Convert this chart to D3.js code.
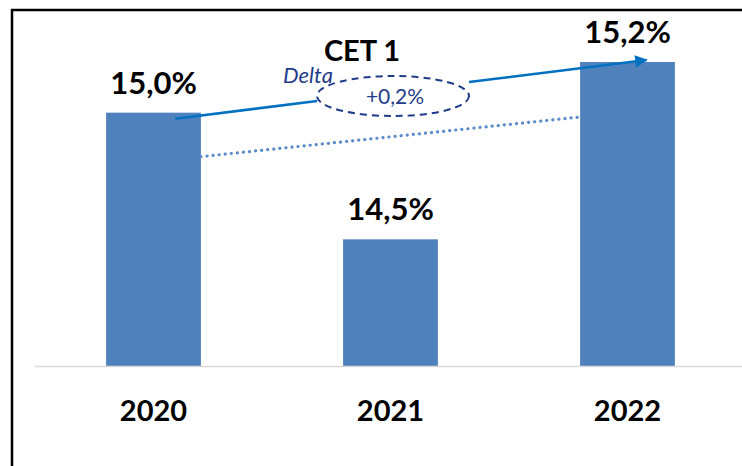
<!DOCTYPE html>
<html>
<head>
<meta charset="utf-8">
<script src="https://cdn.jsdelivr.net/npm/d3@7"></script>
<style>
  body { margin: 0; background: #fff; }
  svg { display: block; }
</style>
</head>
<body>
<div id="chart"></div>
<script>
const years = ['2020', '2021', '2022'];
const cet1 = [15.0, 14.5, 15.2];
const valueLabels = ['15,0%', '14,5%', '15,2%'];
const title = 'CET 1';
const deltaLabel = '+0,2%';

const width = 742;
const height = 466;
const font = 'Lato, "Open Sans", sans-serif';

const svg = d3.select('#chart').append('svg')
    .attr('width', width)
    .attr('height', height);

// frame (only top and left edges show in the crop)
svg.append('path')
    .attr('d', 'M12,470 L12,10 L750,10')
    .attr('fill', 'none')
    .attr('stroke', '#000')
    .attr('stroke-width', 2.5);

const x = d3.scaleBand()
    .domain(years)
    .range([35, 746])
    .paddingInner(0.6)
    .paddingOuter(0.3);

// axis doesn't start at zero
const y = d3.scaleLinear()
    .domain([14, 15.2])
    .range([366, 62]);

svg.append('g')
    .selectAll('rect')
    .data(years)
    .enter().append('rect')
    .attr('x', d => x(d))
    .attr('y', (d, i) => y(cet1[i]))
    .attr('width', x.bandwidth())
    .attr('height', (d, i) => y.range()[0] - y(cet1[i]))
    .attr('fill', '#4F81BD');

// baseline
svg.append('line')
    .attr('x1', 35).attr('x2', width)
    .attr('y1', y.range()[0] + 0.5).attr('y2', y.range()[0] + 0.5)
    .attr('stroke', '#D9D9D9')
    .attr('stroke-width', 1.5);

// year labels
svg.append('g')
    .selectAll('text')
    .data(years)
    .enter().append('text')
    .attr('x', d => x(d) + x.bandwidth() / 2)
    .attr('y', 421)
    .attr('text-anchor', 'middle')
    .style('font-family', font)
    .style('font-weight', 'bold')
    .style('font-size', '29px')
    .attr('fill', '#000')
    .text(d => d);

// value labels
svg.append('g')
    .selectAll('text')
    .data(years)
    .enter().append('text')
    .attr('x', d => x(d) + x.bandwidth() / 2)
    .attr('y', (d, i) => y(cet1[i]) - 19)
    .attr('text-anchor', 'middle')
    .style('font-family', font)
    .style('font-weight', 'bold')
    .style('font-size', '31px')
    .attr('fill', '#000')
    .text((d, i) => valueLabels[i]);

svg.append('text')
    .attr('x', 362)
    .attr('y', 61)
    .attr('text-anchor', 'middle')
    .style('font-family', font)
    .style('font-weight', 'bold')
    .style('font-size', '29px')
    .attr('fill', '#000')
    .text(title);

// dotted trend line between first and last bar
const first = years[0], last = years[years.length - 1];
svg.append('line')
    .attr('x1', x(first) + x.bandwidth())
    .attr('y1', y(cet1[0]) + 44)
    .attr('x2', x(last))
    .attr('y2', y(cet1[2]) + 55)
    .attr('stroke', '#5B8BC9')
    .attr('stroke-width', 3.2)
    .attr('stroke-linecap', 'round')
    .attr('stroke-dasharray', '0.1 6');

// delta arrow
svg.append('defs').append('marker')
    .attr('id', 'arrow')
    .attr('viewBox', '0 0 10 10')
    .attr('refX', 9).attr('refY', 5)
    .attr('markerWidth', 6).attr('markerHeight', 5)
    .attr('orient', 'auto')
    .attr('markerUnits', 'strokeWidth')
    .append('path')
    .attr('d', 'M0,0 L10,5 L0,10 z')
    .attr('fill', '#0070C0');

const ax0 = x(first) + x.bandwidth() * 0.73, ay0 = y(cet1[0]) + 6;
const ax1 = x(last) + x.bandwidth() * 0.7, ay1 = y(cet1[2]) - 2;
const ex = 393, ey = 96, erx = 76, ery = 20;
const lerp = (t) => [ax0 + (ax1 - ax0) * t, ay0 + (ay1 - ay0) * t];
const tA = (ex - erx - ax0) / (ax1 - ax0);
const tB = (ex + erx - ax0) / (ax1 - ax0);

svg.append('line')
    .attr('x1', ax0).attr('y1', ay0)
    .attr('x2', lerp(tA)[0]).attr('y2', lerp(tA)[1])
    .attr('stroke', '#0070C0')
    .attr('stroke-width', 2.5);

svg.append('line')
    .attr('x1', lerp(tB)[0]).attr('y1', lerp(tB)[1])
    .attr('x2', ax1).attr('y2', ay1)
    .attr('stroke', '#0070C0')
    .attr('stroke-width', 2.5)
    .attr('marker-end', 'url(#arrow)');

svg.append('ellipse')
    .attr('cx', ex).attr('cy', ey)
    .attr('rx', erx).attr('ry', ery)
    .attr('fill', 'none')
    .attr('stroke', '#1F3C88')
    .attr('stroke-width', 2)
    .attr('stroke-dasharray', '7 5');

svg.append('text')
    .attr('x', ex + 2)
    .attr('y', ey + 8)
    .attr('text-anchor', 'middle')
    .style('font-family', font)
    .style('font-size', '21px')
    .attr('fill', '#1F3C88')
    .text(deltaLabel);

svg.append('text')
    .attr('x', 308)
    .attr('y', 83)
    .attr('text-anchor', 'middle')
    .style('font-family', font)
    .style('font-style', 'italic')
    .style('font-size', '22px')
    .attr('fill', '#1F3C88')
    .text('Delta');
</script>
</body>
</html>
